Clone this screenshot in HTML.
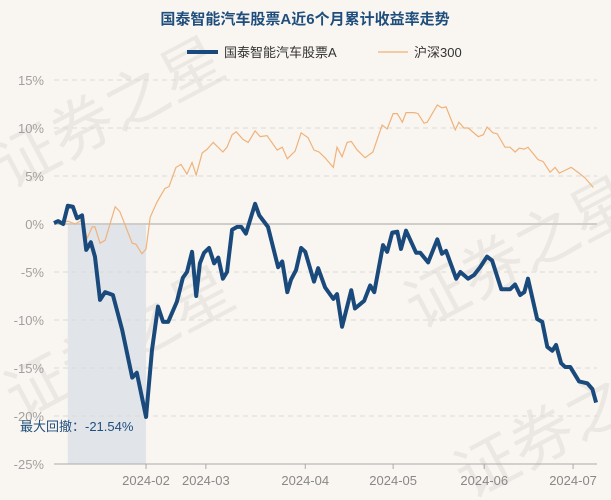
<!DOCTYPE html>
<html><head><meta charset="utf-8">
<style>
body{margin:0;background:#f9f6f1;}
svg{display:block;font-family:"Liberation Sans","Noto Sans CJK SC",sans-serif;}
</style></head>
<body>
<svg id="chart" width="611" height="500">
<rect width="611" height="500" fill="#f9f6f1"/>
<g fill="#ebe8e3" font-size="62" font-family="Noto Sans CJK SC, sans-serif">
<text x="10" y="190" transform="rotate(-28 10 190)">证券之星</text>
<text x="20" y="420" transform="rotate(-28 20 420)">证券之星</text>
<text x="420" y="330" transform="rotate(-28 420 330)">证券之星</text>
<text x="470" y="500" transform="rotate(-28 470 500)">证券之星</text>
</g>
<text x="305" y="24" text-anchor="middle" font-size="15" font-weight="bold" fill="#1f4e7d">国泰智能汽车股票A近6个月累计收益率走势</text>
<g>
<line x1="187" y1="52" x2="218" y2="52" stroke="#1a4a7c" stroke-width="4"/>
<text x="224" y="57" font-size="13" fill="#333">国泰智能汽车股票A</text>
<line x1="378" y1="52" x2="408" y2="52" stroke="#f0b27a" stroke-width="1.2"/>
<text x="414" y="57" font-size="13" fill="#333">沪深300</text>
</g>
<g id="grid"></g>
<g id="marks"></g>
</svg>
<script>
const yTicks=[15,10,5,0,-5,-10,-15,-20,-25];
const xTickDays=[20,33,54.6,73.7,93.5,112.8];
const xTickLabels=["2024-02","2024-03","2024-04","2024-05","2024-06","2024-07"];
const fundDays=[0,0.9,2,3,4.1,5,6.1,7,8,8.9,10,11.1,12.8,14.8,17,18,20,21.3,22.6,23.7,24.8,26.7,28,28.9,30,30.9,31.7,32.6,33.7,34.8,35.7,36.7,37.6,38.7,39.8,40.7,41.7,43.7,44.6,46.5,48.7,49.6,50.7,51.5,52.6,53.7,54.6,56.5,57.4,58.9,60.7,61.5,62.6,64.6,65.4,67.4,68.7,69.6,71.5,72.4,73.5,74.6,75.4,76.5,78.7,79.6,81.3,83.3,84.3,85.2,87.4,88.3,90,91.3,92.6,94.1,95.2,97.2,99.1,100.2,101.3,102.2,103,105,106.1,107.2,108.3,109.1,110.2,111.1,112.2,114.1,115.9,117,117.8];
const fundValues=[0.1,0.3,0,1.9,1.8,0.6,0.9,-2.7,-1.9,-3.4,-7.9,-7.1,-7.4,-11,-16,-15.5,-20.1,-13.1,-8.6,-10.2,-10.2,-8.1,-5.6,-5,-2.9,-7.5,-4.1,-3,-2.5,-4.1,-3.5,-5.7,-5,-0.6,-0.3,-0.3,-1,2.1,0.9,-0.3,-4.5,-3.9,-7.1,-5.8,-4.8,-2.5,-2.9,-6,-4.6,-6.6,-7.8,-7.3,-10.7,-6.9,-8.8,-8,-6.4,-7.1,-2.2,-2.9,-0.9,-0.8,-2.6,-0.7,-3,-3,-4,-1.6,-3.1,-2.8,-5.7,-5,-5.7,-5.3,-4.5,-3.4,-3.8,-6.8,-6.8,-6.3,-7.4,-7.1,-5.7,-9.9,-10.2,-12.8,-13.2,-12.6,-14.5,-14.9,-14.9,-16.4,-16.6,-17.2,-18.6];
const hsDays=[0,1.7,3,4.6,6.1,7.2,8.3,8.9,10,11.1,13.3,14.3,17,17.8,19.1,20,20.9,22.4,24.1,25,26.5,27.6,28.9,30,30.9,32.2,33.3,34.6,36.7,37.6,38.7,39.6,41.1,42.2,43.7,44.8,46.3,48.5,49.6,50.7,52.4,53.7,55.2,56.5,57.6,58.9,60.7,61.5,62.6,63.7,64.6,65.9,67.6,69.3,71.3,72.4,73.7,74.6,75.7,76.5,78.3,79.1,80.4,81.1,83.3,84.3,85.2,87.2,88,89.1,90,92.2,93.3,94.1,95.4,96.3,98,99.1,100.2,101.1,102.2,103,105.2,106.3,107.8,108.9,109.8,111.1,112.4,114.1,115.4,117.2];
const hsValues=[0.1,0.1,0.3,0,0.4,-1.5,-0.3,-0.3,-2,-1.7,1.8,1.3,-2,-2.1,-3.1,-2.6,0.7,2.3,3.7,3.9,5.9,6.2,5.2,6.4,5.1,7.4,7.8,8.5,7.5,8,9.3,9.6,8.8,8.5,9.7,9.1,9.2,7.7,8,6.8,7.6,9.5,9,7.7,7.5,6.9,5.9,8,7,8.5,8.6,7.7,6.9,7.5,10.3,9.9,11.5,11.5,10.6,11.6,11.6,11.5,10.5,10.6,12.4,12.1,12.2,9.8,10.6,10,10,9.1,9.3,10.1,9.5,9.4,8,8,7.5,7.9,7.8,8,6.7,6.5,5.4,5.9,5.3,5.6,5.9,5.3,4.8,3.8];
const drawdownLabel="最大回撤：-21.54%";

const L=54,R=597,T=80,B=464,DMAX=118;
const sx=d=>L+(R-L)*d/DMAX;
const sy=v=>T+(15-v)*(B-T)/40;
const NS="http://www.w3.org/2000/svg";
function mk(tag,attrs,parent){const e=document.createElementNS(NS,tag);for(const k in attrs)e.setAttribute(k,attrs[k]);parent.appendChild(e);return e;}
const grid=document.getElementById('grid'),marks=document.getElementById('marks');
// drawdown area
let pk=0,best={dd:0,p:0,t:0};
for(let i=0;i<fundValues.length;i++){
  if(fundValues[i]>fundValues[pk])pk=i;
  const dd=(100+fundValues[i])/(100+fundValues[pk])-1;
  if(dd<best.dd)best={dd:dd,p:pk,t:i};
}
const dr=mk('rect',{x:sx(fundDays[best.p]),y:sy(0),width:sx(fundDays[best.t])-sx(fundDays[best.p]),height:B-sy(0),fill:'#e1e5e9'},grid);


yTicks.forEach(v=>{
  const y=sy(v);
  if(v!==0&&v!==-25){const g=mk('line',{x1:L,x2:R,y1:y,y2:y,stroke:'#dcdad6','stroke-dasharray':'5,4'},grid);
  
  }
  const t=mk('text',{x:44,y:y+5,'text-anchor':'end','font-size':'13',fill:'#a0a0a0'},grid);
  t.textContent=v+'%';
  
  
});
const zl=mk('line',{x1:L,x2:R,y1:sy(0),y2:sy(0),stroke:'#d0cdc8','stroke-width':2},grid);


const ax=mk('line',{x1:L,x2:R,y1:B,y2:B,stroke:'#aaa'},grid);


xTickDays.forEach((d,i)=>{
  const x=sx(d);
  const tk=mk('line',{x1:x,x2:x,y1:B,y2:B+5,stroke:'#aaa'},grid);
  
  
  const t=mk('text',{x:x,y:B+21,'text-anchor':'middle','font-size':'13',fill:'#888'},grid);
  t.textContent=xTickLabels[i];
  
  
});
const hs=mk('polyline',{points:hsDays.map((d,i)=>sx(d)+','+sy(hsValues[i])).join(' '),fill:'none',stroke:'#f0b27a','stroke-width':1.2},marks);


const fl=mk('polyline',{points:fundDays.map((d,i)=>sx(d)+','+sy(fundValues[i])).join(' '),fill:'none',stroke:'#1a4a7c','stroke-width':4,'stroke-linejoin':'round'},marks);


const dl=mk('text',{x:20,y:sy(fundValues[best.t])+14,'font-size':'13',fill:'#1f4e7d'},marks);
dl.textContent=drawdownLabel;


</script>
</body></html>
